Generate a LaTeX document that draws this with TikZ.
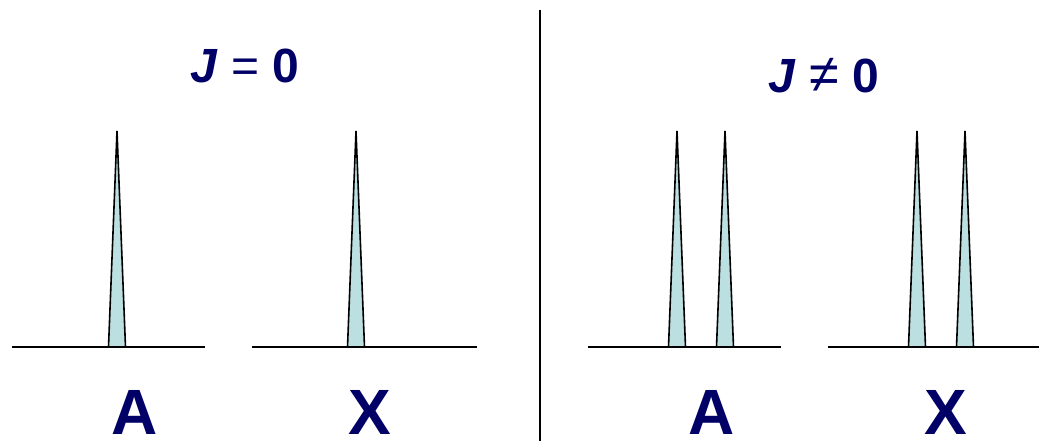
\documentclass[tikz,border=0pt]{standalone}
\usepackage{fontspec}
\setmainfont{Liberation Sans}
\definecolor{navy}{RGB}{0,0,102}
\definecolor{peakfill}{RGB}{188,224,226}
\begin{document}
\begin{tikzpicture}[x=1pt,y=-1pt,
  baseline/.style={line width=2.6pt},
  peakline/.style={line width=1.6pt,fill=peakfill,line join=miter},
  label/.style={font=\fontsize{64}{64}\selectfont\bfseries,text=navy,inner sep=0pt,anchor=base},
  title/.style={font=\fontsize{48}{48}\selectfont\bfseries,text=navy,inner sep=0pt,anchor=base}]
\useasboundingbox (0,0) rectangle (1039,441);
% divider
\coordinate (d1) at (540,10);
\coordinate (d2) at (540,441);
\draw[line width=2pt] (d1) -- (d2);
% titles
\node[title] (t1) at (245,83) {\textit{J} {\mdseries =} 0};
\node[title] (t2) at (824,93) {\textit{J} {\fontsize{54}{54}\selectfont\mdseries ≠} 0};
% peaks
\foreach \p/\x in {pa/117, px/356, pa1/677, pa2/725, px1/917, px2/965}{
  \draw[peakline] (\x-8.5,347) -- (\x,131) -- (\x+8.5,347);
}
% baselines
\coordinate (b1l) at (12,347); \coordinate (b1r) at (205,347);
\coordinate (b2l) at (252,347); \coordinate (b2r) at (477,347);
\coordinate (b3l) at (588,347); \coordinate (b3r) at (781,347);
\coordinate (b4l) at (828,347); \coordinate (b4r) at (1039,347);
\draw[baseline] (b1l) -- (b1r);
\draw[baseline] (b2l) -- (b2r);
\draw[baseline] (b3l) -- (b3r);
\draw[baseline] (b4l) -- (b4r);
% labels
\node[label] (la1) at (135,434) {A};
\node[label] (lx1) at (370,434) {X};
\node[label] (la2) at (712,434) {A};
\node[label] (lx2) at (946,434) {X};
\end{tikzpicture}
\end{document}
